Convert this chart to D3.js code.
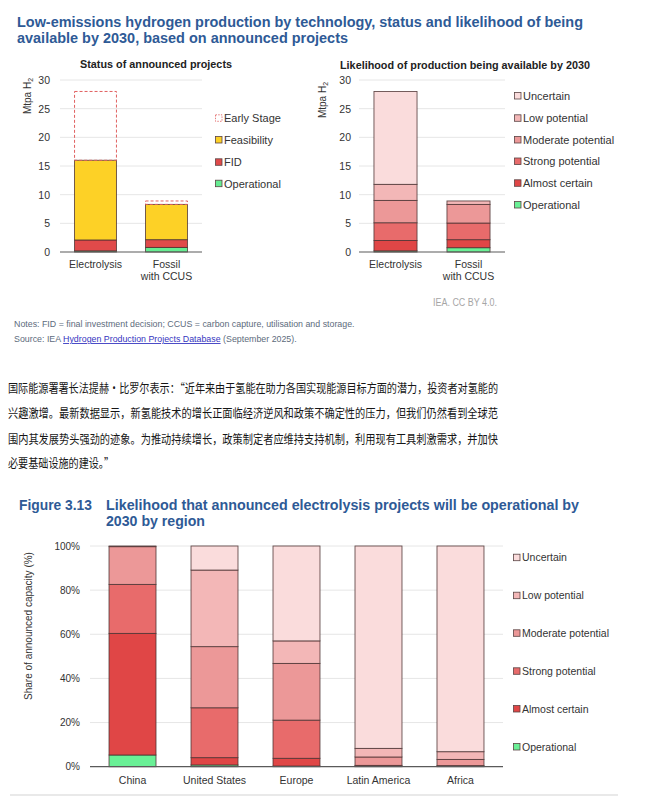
<!DOCTYPE html>
<html>
<head>
<meta charset="utf-8">
<script src="https://cdn.jsdelivr.net/npm/d3@7"></script>
<style>
  html, body { margin: 0; padding: 0; background: #fff; }
  svg { display: block; }
  text { font-family: "Liberation Sans", Arial, sans-serif; }
  .cjk { font-family: "Noto Sans CJK SC", sans-serif; }
</style>
</head>
<body>
<svg id="chart" width="649" height="801"></svg>
<script>
// ---------- DATA ----------
const techCategories = ["Electrolysis", "Fossil with CCUS"];
const statusKeys = ["Operational", "FID", "Feasibility", "Early Stage"];
const statusOperational = [0.2, 0.8];
const statusFID = [1.9, 1.35];
const statusFeasibility = [13.9, 6.15];
const statusEarlyStage = [12.0, 0.6];

const likelihoodKeys = ["Operational", "Almost certain", "Strong potential", "Moderate potential", "Low potential", "Uncertain"];
const likeOperational = [0.2, 0.75];
const likeAlmostCertain = [1.8, 1.4];
const likeStrong = [3.1, 2.9];
const likeModerate = [3.9, 3.25];
const likeLow = [2.8, 0.6];
const likeUncertain = [16.2, 0.0];

const regions = ["China", "United States", "Europe", "Latin America", "Africa"];
const regOperational = [5.3, 0.8, 0.3, 0.0, 0.0];
const regAlmostCertain = [55.1, 3.3, 3.5, 0.3, 0.2];
const regStrong = [22.2, 22.6, 17.3, 0.3, 0.3];
const regModerate = [17.1, 27.7, 25.7, 3.8, 2.8];
const regLow = [0.3, 34.7, 10.2, 3.9, 3.5];
const regUncertain = [0.0, 10.9, 43.0, 91.7, 93.2];

const mtpaTicks = [0, 5, 10, 15, 20, 25, 30];
const shareTicks = [0, 20, 40, 60, 80, 100];

// ---------- STYLE ----------
const statusColors = { "Operational": "#66ec92", "FID": "#e04a4a", "Feasibility": "#fdd126", "Early Stage": "none" };
const likeColors = {
  "Operational": "#6af096", "Almost certain": "#e04646", "Strong potential": "#e86b6b",
  "Moderate potential": "#ec9898", "Low potential": "#f3b7b7", "Uncertain": "#fadcdc"
};
const titleBlue = "#2e5a96";
const svg = d3.select("#chart");

function buildRows(cats, keys, arrays) {
  return cats.map((c, i) => {
    const r = { cat: c };
    keys.forEach((k, j) => r[k] = arrays[j][i]);
    return r;
  });
}

// scale a text's font size so that its natural width equals the target width
function fitFont(sel, baseSize, target) {
  sel.attr("font-size", baseSize);
  const n = sel.node().getComputedTextLength();
  sel.attr("font-size", (baseSize * target / n).toFixed(2));
  return sel;
}

function drawYAxis(g, y, ticks, x0, x1, pad, fmt, fs) {
  g.append("g").selectAll("line").data(ticks.filter(t => t !== 0)).join("line")
    .attr("x1", x0).attr("x2", x1).attr("y1", d => y(d)).attr("y2", d => y(d))
    .attr("stroke", "#e6e6e6").attr("stroke-width", 1);
  const ax = g.append("g").attr("transform", `translate(${x0},0)`)
    .call(d3.axisLeft(y).tickValues(ticks).tickSize(0).tickPadding(pad).tickFormat(fmt));
  ax.select(".domain").remove();
  ax.selectAll("text").attr("font-size", fs).attr("fill", "#333")
    .attr("font-family", "Liberation Sans, Arial, sans-serif");
}

function drawXAxis(g, x, yBase, x0, x1, fs, dy) {
  g.append("line").attr("x1", x0).attr("x2", x1).attr("y1", yBase).attr("y2", yBase)
    .attr("stroke", "#5a5a5a").attr("stroke-width", 1.2);
  const ax = g.append("g").attr("transform", `translate(0,${yBase})`)
    .call(d3.axisBottom(x).tickSize(0).tickPadding(dy));
  ax.select(".domain").remove();
  ax.selectAll("text").attr("font-size", fs).attr("fill", "#333")
    .attr("font-family", "Liberation Sans, Arial, sans-serif")
    .each(function(d) {
      const t = d3.select(this);
      const idx = d.indexOf(" with ");
      if (idx > 0) {
        t.text(null);
        t.append("tspan").attr("x", 0).text(d.slice(0, idx));
        t.append("tspan").attr("x", 0).attr("dy", "1.1em").text(d.slice(idx + 1));
      }
    });
}

function drawLegend(g, items, colors, x, ys, fs, dashedKey) {
  items.forEach((k, i) => {
    const y = ys[i];
    g.append("rect").attr("x", x).attr("y", y - 3.5).attr("width", 6.5).attr("height", 6.5)
      .attr("fill", k === dashedKey ? "none" : colors[k])
      .attr("stroke", k === dashedKey ? "#e06060" : "#5a4444")
      .attr("stroke-width", 0.8)
      .attr("stroke-dasharray", k === dashedKey ? "1.5,1.2" : null);
    g.append("text").attr("x", x + 8.5).attr("y", y).attr("dy", "0.35em")
      .attr("font-size", fs).attr("fill", "#333").text(k);
  });
}

function yLabelMtpa(g, cx, cy) {
  const t = g.append("text").attr("transform", `translate(${cx},${cy}) rotate(-90)`)
    .attr("text-anchor", "middle").attr("dy", "0.35em").attr("font-size", 10).attr("fill", "#333");
  t.append("tspan").text("Mtpa H");
  t.append("tspan").attr("font-size", 7).attr("dy", "0.3em").text("2");
}

// ---------- MAIN TITLE ----------
svg.append("text").attr("x", 17).attr("y", 26.5).attr("font-size", 15).attr("font-weight", "bold")
  .attr("fill", titleBlue).attr("textLength", 566).attr("lengthAdjust", "spacingAndGlyphs")
  .text("Low-emissions hydrogen production by technology, status and likelihood of being");
svg.append("text").attr("x", 17).attr("y", 42.5).attr("font-size", 15).attr("font-weight", "bold")
  .attr("fill", titleBlue).attr("textLength", 331).attr("lengthAdjust", "spacingAndGlyphs")
  .text("available by 2030, based on announced projects");

// ---------- CHART A: status ----------
{
  const g = svg.append("g");
  const x = d3.scaleBand().domain(techCategories).range([60, 202]).paddingInner(0.41).paddingOuter(0.205);
  const y = d3.scaleLinear().domain([0, 30]).range([252, 80]);
  g.append("text").attr("x", 156).attr("y", 67.5).attr("text-anchor", "middle")
    .attr("font-size", 10).attr("font-weight", "bold").attr("fill", "#222")
    .attr("textLength", 152).attr("lengthAdjust", "spacingAndGlyphs").text("Status of announced projects");
  drawYAxis(g, y, mtpaTicks, 60, 202, 10, d3.format("d"), 10.5);
  yLabelMtpa(g, 27, 96);
  const rows = buildRows(techCategories, statusKeys, [statusOperational, statusFID, statusFeasibility, statusEarlyStage]);
  const series = d3.stack().keys(statusKeys)(rows);
  series.forEach(s => {
    const early = s.key === "Early Stage";
    g.append("g").selectAll("rect").data(s).join("rect")
      .attr("x", d => x(d.data.cat)).attr("width", x.bandwidth())
      .attr("y", d => y(d[1])).attr("height", d => Math.max(0, y(d[0]) - y(d[1])))
      .attr("fill", early ? "none" : statusColors[s.key])
      .attr("stroke", early ? "#e06060" : "#4a3030")
      .attr("stroke-width", early ? 1 : 0.9)
      .attr("stroke-opacity", early ? 1 : 0.85)
      .attr("stroke-dasharray", early ? "3,2" : null);
  });
  drawXAxis(g, x, 252, 60, 202, 10.5, 9);
  drawLegend(g, statusKeys.slice().reverse(), statusColors, 215.5, [118.3, 140, 162.3, 183.7], 11, "Early Stage");
}

// ---------- CHART B: likelihood ----------
{
  const g = svg.append("g");
  const x = d3.scaleBand().domain(techCategories).range([359, 505]).paddingInner(0.41).paddingOuter(0.205);
  const y = d3.scaleLinear().domain([0, 30]).range([252, 80]);
  g.append("text").attr("x", 465).attr("y", 68.5).attr("text-anchor", "middle")
    .attr("font-size", 10).attr("font-weight", "bold").attr("fill", "#222")
    .attr("textLength", 250).attr("lengthAdjust", "spacingAndGlyphs").text("Likelihood of production being available by 2030");
  drawYAxis(g, y, mtpaTicks, 359, 505, 8, d3.format("d"), 10.5);
  yLabelMtpa(g, 322, 100);
  const rows = buildRows(techCategories, likelihoodKeys, [likeOperational, likeAlmostCertain, likeStrong, likeModerate, likeLow, likeUncertain]);
  const series = d3.stack().keys(likelihoodKeys)(rows);
  series.forEach(s => {
    g.append("g").selectAll("rect").data(s.filter(d => d[1] > d[0])).join("rect")
      .attr("x", d => x(d.data.cat)).attr("width", x.bandwidth())
      .attr("y", d => y(d[1])).attr("height", d => y(d[0]) - y(d[1]))
      .attr("fill", likeColors[s.key]).attr("stroke", "#4a3030")
      .attr("stroke-width", 0.9).attr("stroke-opacity", 0.85);
  });
  drawXAxis(g, x, 252, 359, 505, 10.5, 9);
  drawLegend(g, likelihoodKeys.slice().reverse(), likeColors, 514.5, [96, 118.3, 140, 161.5, 183.3, 205], 11);
}

// ---------- credit, notes ----------
svg.append("text").attr("x", 497).attr("y", 306).attr("text-anchor", "end")
  .attr("font-size", 10).attr("fill", "#a6a6a6").attr("textLength", 64).attr("lengthAdjust", "spacingAndGlyphs")
  .text("IEA. CC BY 4.0.");
fitFont(svg.append("text").attr("x", 14).attr("y", 326.5).attr("fill", "#5d6b7c")
  .text("Notes: FID = final investment decision; CCUS = carbon capture, utilisation and storage."), 10, 341);
{
  const t = svg.append("text").attr("x", 14).attr("y", 342).attr("fill", "#5d6b7c");
  t.append("tspan").text("Source: IEA ");
  t.append("tspan").attr("fill", "#3535c0").attr("text-decoration", "underline").text("Hydrogen Production Projects Database");
  t.append("tspan").text(" (September 2025).");
  fitFont(t, 10, 283);
}

// ---------- Chinese paragraph ----------
const paragraphLines = [
  "国际能源署署长法提赫·比罗尔表示：“近年来由于氢能在助力各国实现能源目标方面的潜力，投资者对氢能的",
  "兴趣激增。最新数据显示，新氢能技术的增长正面临经济逆风和政策不确定性的压力，但我们仍然看到全球范",
  "围内其发展势头强劲的迹象。为推动持续增长，政策制定者应维持支持机制，利用现有工具刺激需求，并加快",
  "必要基础设施的建设。”"
];
const paraWidths = [490, 490, 490, 106];
const paraY = [392.5, 418, 443.5, 468];
paragraphLines.forEach((l, i) => {
  svg.append("text").attr("class", "cjk").attr("x", 8).attr("y", paraY[i])
    .attr("font-size", 12.5).attr("fill", "#161616")
    .attr("textLength", paraWidths[i]).attr("lengthAdjust", "spacingAndGlyphs").text(l);
});

// ---------- FIGURE 3.13 ----------
svg.append("text").attr("x", 19).attr("y", 509.5).attr("font-size", 15).attr("font-weight", "bold")
  .attr("fill", titleBlue).attr("textLength", 73).attr("lengthAdjust", "spacingAndGlyphs").text("Figure 3.13");
svg.append("text").attr("x", 106).attr("y", 509.5).attr("font-size", 15).attr("font-weight", "bold")
  .attr("fill", titleBlue).attr("textLength", 473).attr("lengthAdjust", "spacingAndGlyphs")
  .text("Likelihood that announced electrolysis projects will be operational by");
svg.append("text").attr("x", 106).attr("y", 525.5).attr("font-size", 15).attr("font-weight", "bold")
  .attr("fill", titleBlue).attr("textLength", 99).attr("lengthAdjust", "spacingAndGlyphs").text("2030 by region");

{
  const g = svg.append("g");
  const x = d3.scaleBand().domain(regions).range([90, 503]).paddingInner(0.427).paddingOuter(0.232);
  const y = d3.scaleLinear().domain([0, 100]).range([766.7, 546]);
  drawYAxis(g, y, shareTicks, 90, 503, 10, d => d + "%", 10);
  g.append("text").attr("transform", "translate(28,626) rotate(-90)").attr("text-anchor", "middle")
    .attr("dy", "0.35em").attr("font-size", 10).attr("fill", "#333").text("Share of announced capacity (%)");
  const rows = buildRows(regions, likelihoodKeys, [regOperational, regAlmostCertain, regStrong, regModerate, regLow, regUncertain]);
  const series = d3.stack().keys(likelihoodKeys)(rows);
  series.forEach(s => {
    g.append("g").selectAll("rect").data(s.filter(d => d[1] > d[0])).join("rect")
      .attr("x", d => x(d.data.cat)).attr("width", x.bandwidth())
      .attr("y", d => y(d[1])).attr("height", d => y(d[0]) - y(d[1]))
      .attr("fill", likeColors[s.key]).attr("stroke", "#4a3030")
      .attr("stroke-width", 0.9).attr("stroke-opacity", 0.85);
  });
  drawXAxis(g, x, 766.7, 90, 503, 10.5, 10);
  drawLegend(g, likelihoodKeys.slice().reverse(), likeColors, 513.5, [557.7, 595.7, 633.3, 671.3, 709, 747], 10.5);
}

svg.append("line").attr("x1", 10).attr("x2", 618).attr("y1", 795).attr("y2", 795)
  .attr("stroke", "#e2e2e2").attr("stroke-width", 1.5);
</script>
</body>
</html>
